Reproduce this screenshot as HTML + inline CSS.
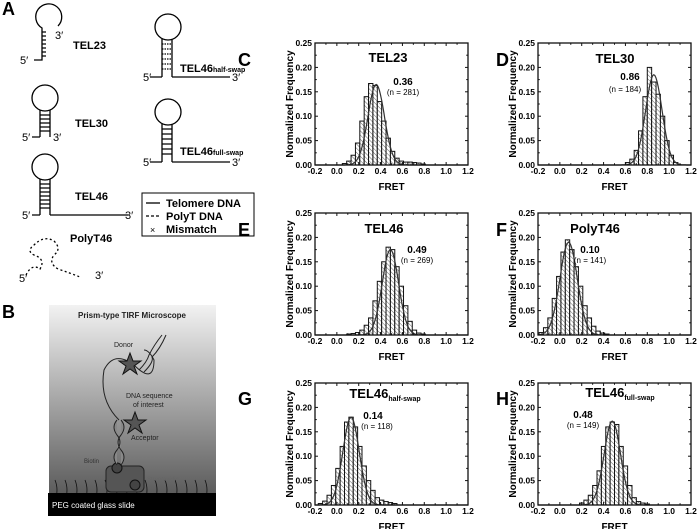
<!DOCTYPE html>
<html><head><meta charset="utf-8"><style>
body{margin:0;background:#fff;}
svg{display:block;font-family:"Liberation Sans",Arial,sans-serif;}
</style></head><body>
<svg id="fig" width="697" height="529" viewBox="0 0 697 529">
<defs>
<pattern id="hatch" patternUnits="userSpaceOnUse" width="3" height="3" patternTransform="rotate(-45)">
<rect width="3" height="3" fill="#fff"/><line x1="0" y1="0" x2="0" y2="3" stroke="#555" stroke-width="0.9"/></pattern>
<linearGradient id="bgB" x1="0" y1="0" x2="0" y2="1"><stop offset="0" stop-color="#f2f2f2"/><stop offset="1" stop-color="#4a4a4a"/></linearGradient>
</defs>
<g font-weight="bold" font-size="18">
<text x="2" y="15">A</text><text x="2" y="318">B</text>
<text x="238" y="66">C</text><text x="496" y="66">D</text>
<text x="238" y="236">E</text><text x="496" y="236">F</text>
<text x="238" y="405">G</text><text x="496" y="405">H</text>
</g>
<!-- Panel A -->
<g stroke="#000" stroke-width="1.3" fill="none">
<path d="M42,44 L42,28 A13,13 0 1 1 58,26" />
<path d="M42,32h4M42,36h4M42,40h4M42,44h4M42,48h4M42,52h4M42,56h4"/>
<path d="M34,60 H42 V44"/>
<circle cx="45" cy="98" r="13"/>
<path d="M40,110 V137 M50,110 V137 M32,137 H40"/>
<path d="M40,115h10M40,119h10M40,123h10M40,127h10M40,131h10"/>
<circle cx="45" cy="167" r="13"/>
<path d="M40,179 V215 M50,179 V215 M32,215 H40 M50,215 H128"/>
<path d="M40,184h10M40,188h10M40,192h10M40,196h10M40,200h10M40,204h10M40,208h10"/>
<path d="M26,275 q6,-12 14,-6 q6,-10 -6,-14 q-8,-4 0,-10 q10,-10 20,-4 q8,8 0,14 q-6,8 4,14 q12,4 22,8" stroke-dasharray="2,2.5"/>
<circle cx="168" cy="27" r="13"/>
<path d="M162,39 V77 M172,39 V77 M150,77 H162 M172,77 H230"/>
<path d="M162,44h10M162,49h10M162,54h10M162,59h10M162,64h10M162,69h10" stroke-dasharray="1.5,1"/>
<circle cx="168" cy="112" r="13"/>
<path d="M162,124 V162 M172,124 V162 M150,162 H162 M172,162 H230"/>
<path d="M162,129h10M162,134h10M162,139h10M162,144h10M162,149h10M162,154h10"/>
<rect x="142" y="193" width="112" height="43" stroke-width="1"/>
<path d="M146,203 H160"/><path d="M146,216 H160" stroke-dasharray="3,2"/>
</g>
<g font-size="11">
<text x="55" y="39">3′</text><text x="20" y="64">5′</text><text x="73" y="49" font-weight="bold">TEL23</text>
<text x="22" y="141">5′</text><text x="53" y="141">3′</text><text x="75" y="127" font-weight="bold">TEL30</text>
<text x="22" y="219">5′</text><text x="125" y="219">3′</text><text x="75" y="200" font-weight="bold">TEL46</text>
<text x="70" y="242" font-weight="bold">PolyT46</text><text x="19" y="282">5′</text><text x="95" y="279">3′</text>
<text x="143" y="81">5′</text><text x="232" y="81">3′</text>
<text x="180" y="72" font-weight="bold">TEL46<tspan font-size="7">half-swap</tspan></text>
<text x="143" y="166">5′</text><text x="232" y="166">3′</text>
<text x="180" y="155" font-weight="bold">TEL46<tspan font-size="7">full-swap</tspan></text>
<text x="166" y="207" font-weight="bold">Telomere DNA</text>
<text x="166" y="220" font-weight="bold">PolyT DNA</text>
<text x="150" y="233" font-size="9">×</text>
<text x="166" y="233" font-weight="bold">Mismatch</text>
</g>
<!-- Panel B -->
<g>
<rect x="49" y="305" width="167" height="211" fill="url(#bgB)"/>
<text x="132" y="318" font-size="8" font-weight="bold" text-anchor="middle" fill="#222">Prism-type TIRF Microscope</text>
<path d="M55,500 q4,-10 0,-20 M65,500 q4,-10 0,-20 M75,500 q4,-10 0,-20 M85,500 q4,-10 0,-20 M95,500 q4,-10 0,-20 M105,500 q4,-10 0,-20 M115,500 q4,-10 0,-20 M125,500 q4,-10 0,-20 M135,500 q4,-10 0,-20 M145,500 q4,-10 0,-20 M155,500 q4,-10 0,-20 M165,500 q4,-10 0,-20 M175,500 q4,-10 0,-20 M185,500 q4,-10 0,-20 M195,500 q4,-10 0,-20 M205,500 q4,-10 0,-20" stroke="#111" fill="none" stroke-width="0.8"/>
<rect x="106" y="466" width="38" height="26" rx="5" fill="#555" stroke="#222"/>
<circle cx="117" cy="468" r="5" fill="#444" stroke="#111"/><circle cx="135" cy="485" r="5" fill="#444" stroke="#111"/>
<path d="M117,465 q-6,-8 0,-15 q6,-8 0,-15 q-6,-8 0,-15 M121,465 q6,-8 0,-15 q-6,-8 0,-15 q6,-8 0,-15" stroke="#222" fill="#888"/>
<path d="M119,420 q-20,-20 -15,-50 q10,-20 30,-5 q20,20 20,-5 q-5,-10 -10,-10" stroke="#222" fill="none"/>
<path d="M139,370 q8,-8 10,-15 q5,-10 13,-20 M144,372 q10,-10 8,-15 q8,-8 14,-22" stroke="#222" fill="none"/>
<polygon points="130,353 133,361 141,361 134,366 137,374 130,369 123,374 126,366 119,361 127,361" fill="#555" stroke="#111"/>
<polygon points="135,412 138,420 146,420 139,425 142,433 135,428 128,433 131,425 124,420 132,420" fill="#555" stroke="#111"/>
<text x="114" y="347" font-size="7" fill="#222">Donor</text>
<text x="126" y="398" font-size="7" fill="#222">DNA sequence</text><text x="133" y="407" font-size="7" fill="#222">of interest</text>
<text x="131" y="440" font-size="7" fill="#222">Acceptor</text>
<text x="84" y="463" font-size="6" fill="#333">Biotin</text>
<text x="147" y="481" font-size="6" fill="#666">Streptavidin</text>
<rect x="48" y="493" width="168" height="23" fill="#000"/>
<text x="52" y="508" font-size="8" fill="#fff">PEG coated glass slide</text>
</g>
<g id="charts"></g>
</svg>
<script>
// Chart data
const binWidth = 0.04;
const binStarts = [0.07, 0.62, 0.11, -0.17, -0.15, 0.2];
const valsC = [0.003,0.008,0.02,0.045,0.09,0.14,0.167,0.163,0.13,0.09,0.055,0.028,0.014,0.008,0.006,0.006,0.005,0.004,0.002];
const valsD = [0.005,0.012,0.03,0.07,0.14,0.2,0.17,0.145,0.1,0.05,0.02,0.005];
const valsE = [0.002,0.003,0.005,0.01,0.02,0.035,0.07,0.11,0.15,0.18,0.175,0.14,0.1,0.06,0.028,0.01,0.004,0.002];
const valsF = [0.005,0.015,0.035,0.075,0.12,0.17,0.195,0.175,0.14,0.1,0.06,0.035,0.018,0.008,0.004,0.002];
const valsG = [0.003,0.008,0.02,0.04,0.075,0.12,0.17,0.18,0.16,0.12,0.08,0.05,0.03,0.015,0.01,0.007,0.005,0.003];
const valsH = [0.004,0.01,0.02,0.04,0.07,0.12,0.16,0.17,0.165,0.12,0.08,0.04,0.015,0.007,0.004,0.002];
const fitMean = [0.36, 0.86, 0.49, 0.08, 0.13, 0.48];
const fitSigma = [0.075, 0.075, 0.075, 0.08, 0.075, 0.075];
const fitAmp = [0.165, 0.185, 0.175, 0.19, 0.18, 0.172];
const titles = ["TEL23","TEL30","TEL46","PolyT46","TEL46","TEL46"];
const titleSubs = ["","","","","half-swap","full-swap"];
const peakLabels = ["0.36","0.86","0.49","0.10","0.14","0.48"];
const nLabels = ["(n = 281)","(n = 184)","(n = 269)","(n = 141)","(n = 118)","(n = 149)"];
const xTicks = [-0.2,0,0.2,0.4,0.6,0.8,1.0,1.2];
const xTickLabels = ["-0.2","0.0","0.2","0.4","0.6","0.8","1.0","1.2"];
const yTicks = [0,0.05,0.1,0.15,0.2,0.25];
const yTickLabels = ["0.00","0.05","0.10","0.15","0.20","0.25"];
const allVals = [valsC,valsD,valsE,valsF,valsG,valsH];

const NS="http://www.w3.org/2000/svg";
const layout=[[315,43],[538,43],[315,213],[538,213],[315,383],[538,383]];
const titlePos=[[388,62,403,85,403,95],[615,63,630,80,625,92],[384,233,417,253,417,263],[595,233,590,253,590,263],[385,398,373,419,377,429],[620,397,583,418,583,428]];
const W=153,H=122;
function mk(tag,attrs,parent){const e=document.createElementNS(NS,tag);for(const k in attrs)e.setAttribute(k,attrs[k]);parent.appendChild(e);return e;}
const root=document.getElementById('charts');
const names=["c","d","e","f","g","h"];
allVals.forEach((vals,ci)=>{
  const [L,T]=layout[ci];
  const xs=v=>L+(v+0.2)/1.4*W, ys=v=>T+H-v/0.25*H;
  const g=mk('g',{},root);
  
  
  vals.forEach((v,i)=>{
    const x0=binStarts[ci]+i*binWidth-binWidth/2;
    const r=mk('rect',{x:xs(x0),y:ys(v),width:xs(x0+binWidth)-xs(x0),height:ys(0)-ys(v),fill:'url(#hatch)',stroke:'#111','stroke-width':1},g);
    
    
  });
  let d='';
  for(let k=0;k<=140;k++){const x=-0.2+k*0.01;const y=fitAmp[ci]*Math.exp(-Math.pow(x-fitMean[ci],2)/(2*fitSigma[ci]*fitSigma[ci]));d+=(k?'L':'M')+xs(x).toFixed(1)+','+ys(y).toFixed(1);}
  const fl=mk('path',{d:d,fill:'none',stroke:'#333','stroke-width':1.2},g);
  
  
  mk('rect',{x:L,y:T,width:W,height:H,fill:'none',stroke:'#111','stroke-width':1.3},g);
  for(let t=-0.2;t<=1.2001;t+=0.1){const x=xs(t),len=(Math.round(t*10)%2===0)?3:1.8;mk('line',{x1:x,x2:x,y1:T+H,y2:T+H-len,stroke:'#111'},g);mk('line',{x1:x,x2:x,y1:T,y2:T+len,stroke:'#111'},g);}
  for(let t=0;t<=0.2501;t+=0.025){const y=ys(t),len=(Math.round(t*1000)%50===0)?3:1.8;mk('line',{x1:L,x2:L+len,y1:y,y2:y,stroke:'#111'},g);mk('line',{x1:L+W,x2:L+W-len,y1:y,y2:y,stroke:'#111'},g);}
  xTicks.forEach((t,i)=>{const tx=mk('text',{x:xs(t),y:T+H+9,'font-size':8.5,'font-weight':'bold','text-anchor':'middle'},g);tx.textContent=xTickLabels[i];
    
    });
  yTicks.forEach((t,i)=>{const tx=mk('text',{x:L-3,y:ys(t)+3,'font-size':8.5,'font-weight':'bold','text-anchor':'end'},g);tx.textContent=yTickLabels[i];
    
    });
  const yt=mk('text',{x:0,y:0,'font-size':10,'font-weight':'bold','text-anchor':'middle',transform:`translate(${L-22},${T+H/2}) rotate(-90)`},g);
  yt.textContent='Normalized Frequency';
  
  
  const xt=mk('text',{x:L+W/2,y:T+H+25,'font-size':10,'font-weight':'bold','text-anchor':'middle'},g);
  xt.textContent='FRET';
  
  
  const p=titlePos[ci];
  const tt=mk('text',{x:p[0],y:p[1],'font-size':13,'font-weight':'bold','text-anchor':'middle'},g);
  tt.textContent=titles[ci];
  if(titleSubs[ci]){const s=mk('tspan',{'font-size':7,dy:3},tt);s.textContent=titleSubs[ci];}
  
  
  const pk=mk('text',{x:p[2],y:p[3],'font-size':10,'font-weight':'bold','text-anchor':'middle'},g);
  pk.textContent=peakLabels[ci];
  
  
  const nl=mk('text',{x:p[4],y:p[5],'font-size':8,'text-anchor':'middle'},g);
  nl.textContent=nLabels[ci];
  
  
});
</script>
</body></html>
